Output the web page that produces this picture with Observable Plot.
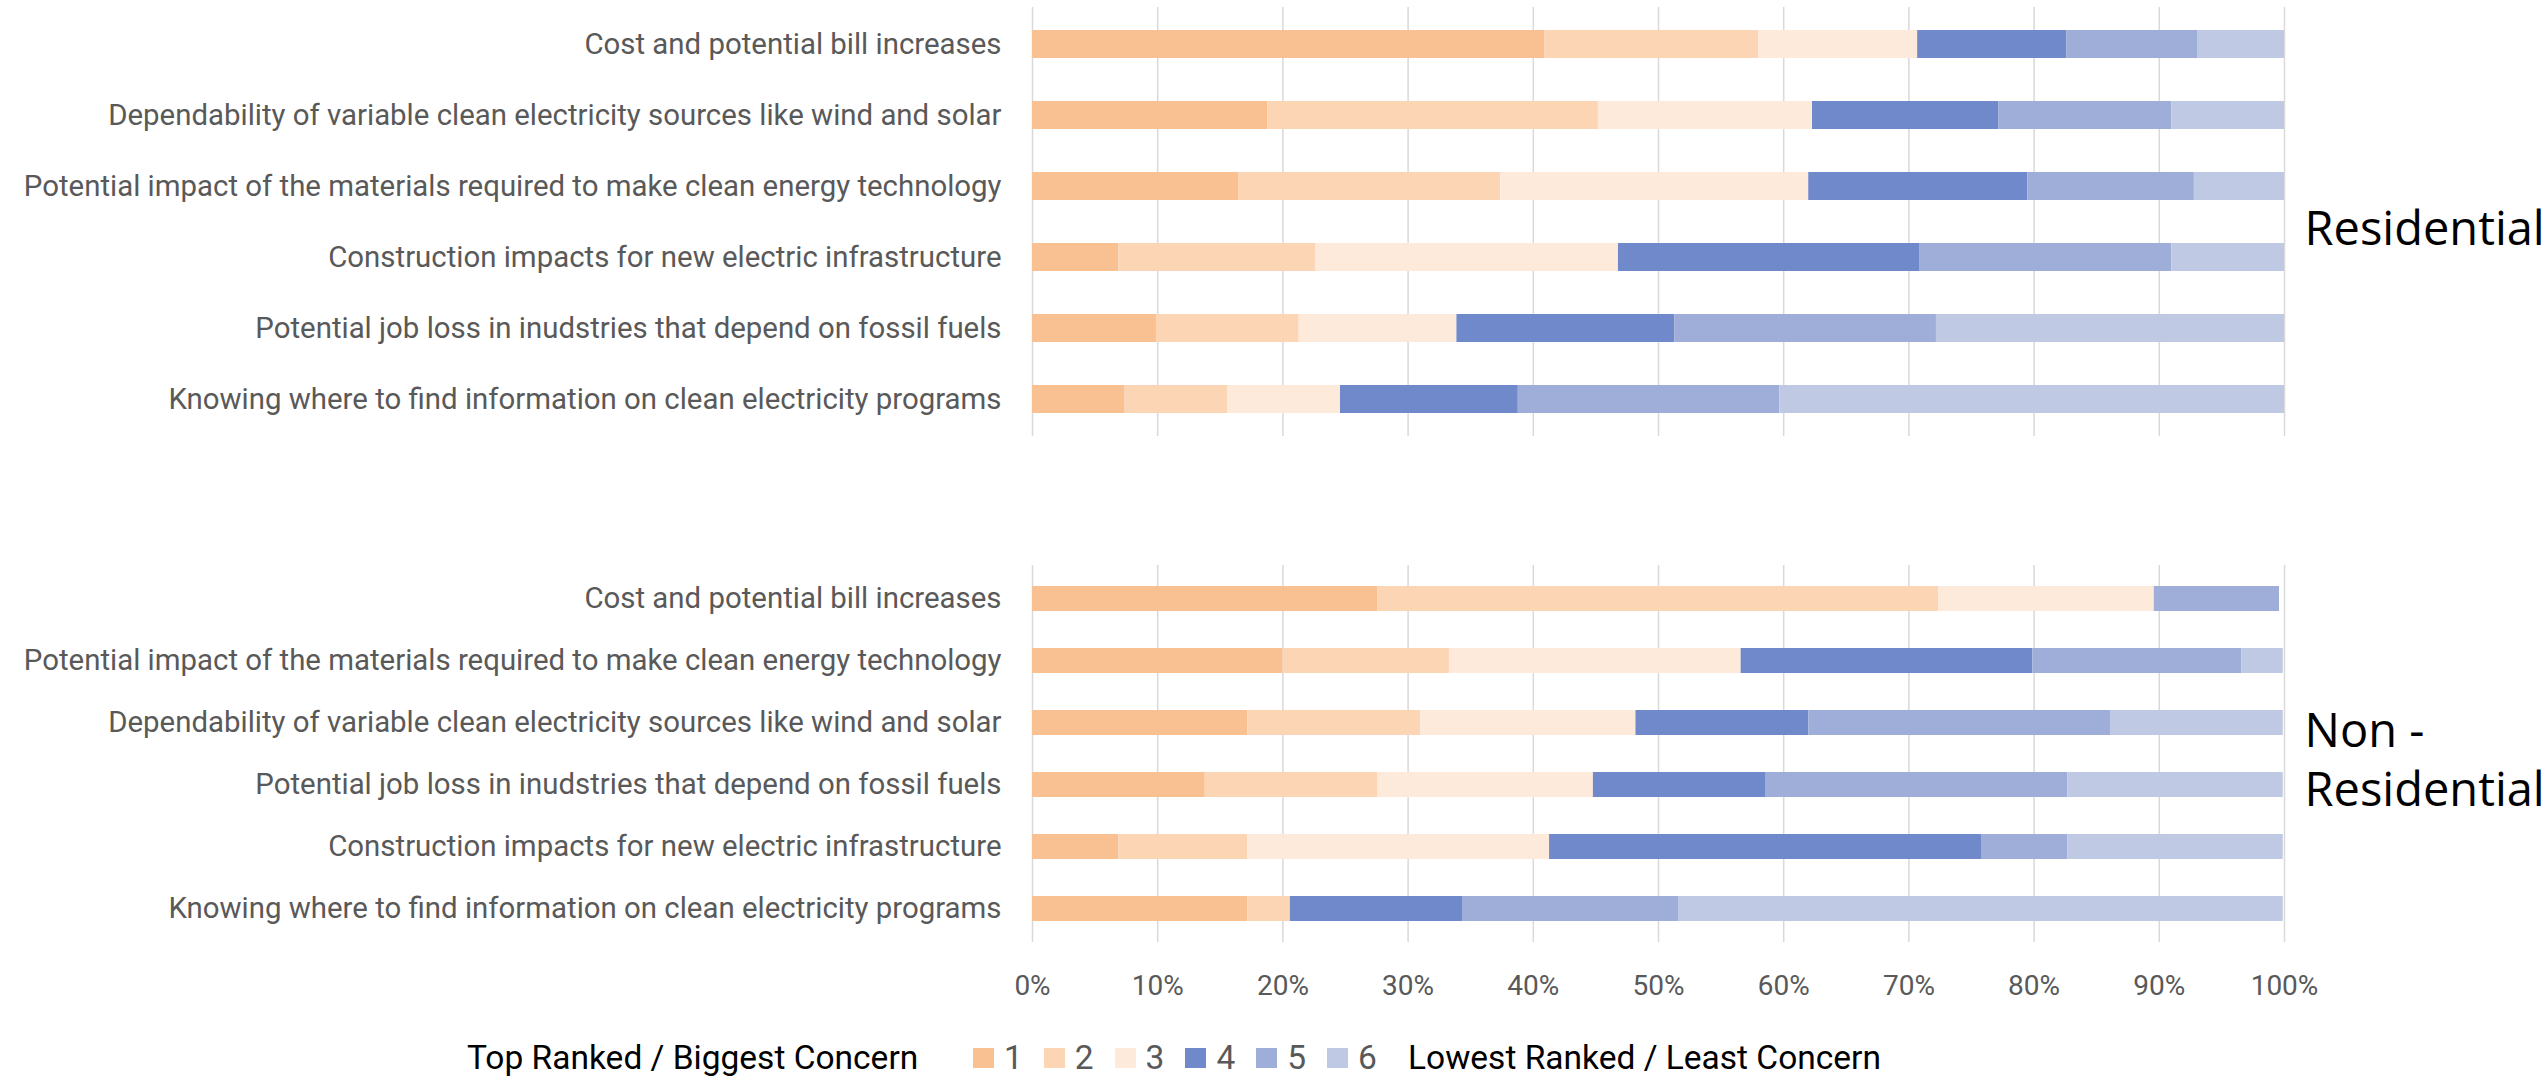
<!DOCTYPE html>
<html>
<head>
<meta charset="utf-8">
<script src="https://cdn.jsdelivr.net/npm/d3@7"></script>
<script src="https://cdn.jsdelivr.net/npm/@observablehq/plot@0.6"></script>
<style>
  html, body { margin: 0; padding: 0; background: #fff; }
  #page { position: relative; width: 2544px; height: 1077px; overflow: hidden; background: #fff; }
  #page > .panel { position: absolute; left: 0; }
  #legend { position: absolute; left: 0; top: 1038px; width: 2544px; height: 40px;
            font-family: Roboto, "Noto Sans", sans-serif; }
  #legend .end { position: absolute; top: 0; font-size: 33.5px; color: #000; line-height: 40px; white-space: nowrap; }
  #legend .items { position: absolute; top: 0; left: 973px; display: flex; height: 40px; align-items: center; }
  #legend .item { width: 70.8px; display: flex; align-items: center; }
  #legend .sw { width: 21px; height: 20px; margin-right: 10px; }
  #legend .num { font-size: 33.5px; color: #595959; line-height: 40px; }
</style>
</head>
<body>
<div id="page">
  <div id="residential" class="panel" style="top:0px"></div>
  <div id="nonresidential" class="panel" style="top:540px"></div>
  <div id="legend"></div>
</div>
<script>
// Rank categories (1 = biggest concern, 6 = least concern) and their fills
const ranks = ["1", "2", "3", "4", "5", "6"];
const rankColors = ["#f9c192", "#fcd5b5", "#fdeadb", "#6f89ca", "#9eaed8", "#bfc9e4"];

// Percent axis ticks
const xTicks = [0, 10, 20, 30, 40, 50, 60, 70, 80, 90, 100];
const xTickLabels = ["0%", "10%", "20%", "30%", "40%", "50%", "60%", "70%", "80%", "90%", "100%"];

// Residential respondents: concerns, top to bottom, and share of respondents per rank (%)
const resCategories = [
  "Cost and potential bill increases",
  "Dependability of variable clean electricity sources like wind and solar",
  "Potential impact of the materials required to make clean energy technology",
  "Construction impacts for new electric infrastructure",
  "Potential job loss in inudstries that depend on fossil fuels",
  "Knowing where to find information on clean electricity programs"
];
const resRank1 = [40.9, 18.8, 16.5, 6.9, 9.9, 7.4];
const resRank2 = [17.1, 26.4, 20.9, 15.7, 11.4, 8.2];
const resRank3 = [12.7, 17.1, 24.6, 24.2, 12.6, 9.0];
const resRank4 = [11.9, 14.9, 17.5, 24.1, 17.4, 14.2];
const resRank5 = [10.5, 13.8, 13.3, 20.1, 20.9, 20.9];
const resRank6 = [6.9, 9.0, 7.2, 9.0, 27.8, 40.3];

// Non-residential respondents
const nonCategories = [
  "Cost and potential bill increases",
  "Potential impact of the materials required to make clean energy technology",
  "Dependability of variable clean electricity sources like wind and solar",
  "Potential job loss in inudstries that depend on fossil fuels",
  "Construction impacts for new electric infrastructure",
  "Knowing where to find information on clean electricity programs"
];
const nonRank1 = [27.6, 20.0, 17.2, 13.8, 6.9, 17.2];
const nonRank2 = [44.8, 13.3, 13.8, 13.8, 10.3, 3.4];
const nonRank3 = [17.2, 23.3, 17.2, 17.2, 24.1, 0];
const nonRank4 = [0, 23.3, 13.8, 13.8, 34.5, 13.8];
const nonRank5 = [10.0, 16.7, 24.1, 24.1, 6.9, 17.2];
const nonRank6 = [0, 3.3, 13.8, 17.2, 17.2, 48.3];

// Long-format rows in rank order so the stack runs 1 → 6 from the left
function toRows(categories, series) {
  const rows = [];
  series.forEach((values, i) => {
    values.forEach((v, j) => rows.push({category: categories[j], rank: ranks[i], value: v}));
  });
  return rows;
}

const W = 2544;
const LEFT = 1032;
const RIGHT = 260;

function panel({categories, series, title, height, marginTop, marginBottom, showAxis}) {
  const marks = [
    Plot.ruleX(xTicks, {stroke: "#d9d9d9", strokeWidth: 1.5}),
    Plot.barX(toRows(categories, series), Plot.stackX({
      x: "value", y: "category", fill: "rank", order: null
    })),
    Plot.axisY({tickSize: 0, tickPadding: 31, label: null, fontSize: 29.4}),
    Plot.text([title], {
      frameAnchor: "right", textAnchor: "start", lineAnchor: "middle",
      dx: 20, dy: 4, fill: "#000", fontSize: 47, lineHeight: 1.25,
      fontFamily: "'Open Sans', 'Noto Sans', sans-serif"
    })
  ];
  if (showAxis) {
    marks.push(Plot.axisX({
      ticks: xTicks, tickFormat: (d) => xTickLabels[xTicks.indexOf(d)],
      tickSize: 0, tickPadding: 33, label: null, fontSize: 28
    }));
  }
  return Plot.plot({
    width: W,
    height,
    marginLeft: LEFT,
    marginRight: RIGHT,
    marginTop,
    marginBottom,
    x: {domain: [0, 100], axis: null},
    y: {domain: categories, paddingInner: 0.6, paddingOuter: 0.3, axis: null},
    color: {domain: ranks, range: rankColors},
    style: {fontFamily: "Roboto, 'Noto Sans', sans-serif", fontSize: "28px", color: "#595959", background: "transparent", overflow: "visible"},
    marks
  });
}

document.getElementById("residential").append(panel({
  categories: resCategories,
  series: [resRank1, resRank2, resRank3, resRank4, resRank5, resRank6],
  title: "Residential",
  height: 443, marginTop: 7, marginBottom: 7, showAxis: false
}));

document.getElementById("nonresidential").append(panel({
  categories: nonCategories,
  series: [nonRank1, nonRank2, nonRank3, nonRank4, nonRank5, nonRank6],
  title: "Non -\nResidential",
  height: 480, marginTop: 25, marginBottom: 78, showAxis: true
}));

// Legend: rank swatches between the two end captions
const legend = document.getElementById("legend");
const left = document.createElement("div");
left.className = "end";
left.style.left = "467px";
left.textContent = "Top Ranked / Biggest Concern";
legend.append(left);
const items = document.createElement("div");
items.className = "items";
ranks.forEach((r, i) => {
  const item = document.createElement("div");
  item.className = "item";
  const sw = document.createElement("div");
  sw.className = "sw";
  sw.style.background = rankColors[i];
  const num = document.createElement("span");
  num.className = "num";
  num.textContent = r;
  item.append(sw, num);
  items.append(item);
});
legend.append(items);
const right = document.createElement("div");
right.className = "end";
right.style.left = "1408px";
right.textContent = "Lowest Ranked / Least Concern";
legend.append(right);
</script>
</body>
</html>
